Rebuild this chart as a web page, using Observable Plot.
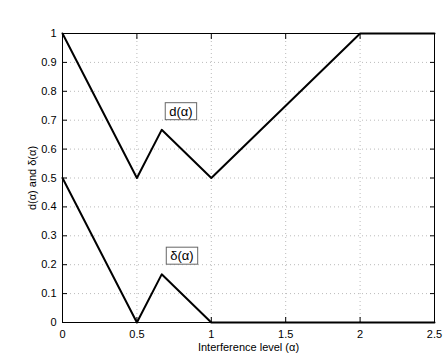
<!DOCTYPE html>
<html>
<head>
<meta charset="utf-8">
<script src="https://cdn.jsdelivr.net/npm/d3@7"></script>
<script src="https://cdn.jsdelivr.net/npm/@observablehq/plot@0.6"></script>
<style>
body { margin: 0; background: #fff; }
svg { font-family: "Liberation Sans", Arial, sans-serif; }
</style>
</head>
<body>
<div id="chart"></div>
<script>
const alphaD = [0, 0.5, 2/3, 1, 2, 2.5];
const dValues = [1, 0.5, 2/3, 0.5, 1, 1];
const alphaDelta = [0, 0.5, 2/3, 1, 2, 2.5];
const deltaValues = [0.5, 0, 1/6, 0, 0, 0];
const xTicks = [0, 0.5, 1, 1.5, 2, 2.5];
const yTicks = [0, 0.1, 0.2, 0.3, 0.4, 0.5, 0.6, 0.7, 0.8, 0.9, 1];
const labelText = ["d(α)", "δ(α)"];
const labelX = [0.796, 0.803];
const labelY = [0.73, 0.23];

const dData = alphaD.map((a, i) => ({a, v: dValues[i]}));
const deltaData = alphaDelta.map((a, i) => ({a, v: deltaValues[i]}));
const labels = labelText.map((t, i) => ({t, x: labelX[i], y: labelY[i]}));

const fmt = d => d === 0 ? "0" : String(d);

const plot = Plot.plot({
  width: 446,
  height: 355,
  marginLeft: 62,
  marginRight: 12,
  marginTop: 33,
  marginBottom: 33,
  style: {fontSize: "11px", fontFamily: "Liberation Sans, Arial, sans-serif", color: "#000"},
  x: {domain: [0, 2.5]},
  y: {domain: [0, 1]},
  marks: [
    Plot.gridX(xTicks, {stroke: "#bbb", strokeOpacity: 1, strokeDasharray: "1,3"}),
    Plot.gridY(yTicks, {stroke: "#bbb", strokeOpacity: 1, strokeDasharray: "1,3"}),
    Plot.axisX({ticks: xTicks, tickSize: -5, tickPadding: 13, tickFormat: fmt, label: "Interference level (α)", labelAnchor: "center", labelArrow: "none", labelOffset: 28, fontSize: 11}),
    Plot.axisX({anchor: "top", ticks: xTicks, tickSize: -5, tickFormat: () => "", label: null}),
    Plot.axisY({ticks: yTicks, tickSize: -5, tickPadding: 11, tickFormat: fmt, label: "d(α) and δ(α)", labelAnchor: "center", labelArrow: "none", labelOffset: 34, fontSize: 11}),
    Plot.axisY({anchor: "right", ticks: yTicks, tickSize: -5, tickFormat: () => "", label: null}),
    Plot.frame({stroke: "#000", strokeWidth: 1}),
    Plot.line(dData, {x: "a", y: "v", stroke: "#000", strokeWidth: 2}),
    Plot.line(deltaData, {x: "a", y: "v", stroke: "#000", strokeWidth: 2}),
    Plot.text(labels, {x: "x", y: "y", text: "t", fontSize: 13, fill: "#000", className: "boxlabel"})
  ]
});
document.getElementById("chart").appendChild(plot);

// draw boxes behind labels
d3.select(plot).selectAll(".boxlabel text").each(function() {
  const bb = this.getBBox();
  const tr = this.getAttribute("transform") || "";
  d3.select(this.parentNode).insert("rect", () => this)
    .attr("transform", tr)
    .attr("x", bb.x - 4).attr("y", bb.y - 1)
    .attr("width", bb.width + 8).attr("height", bb.height + 2)
    .attr("fill", "#fff").attr("stroke", "#666").attr("stroke-width", 1);
});
</script>
</body>
</html>
